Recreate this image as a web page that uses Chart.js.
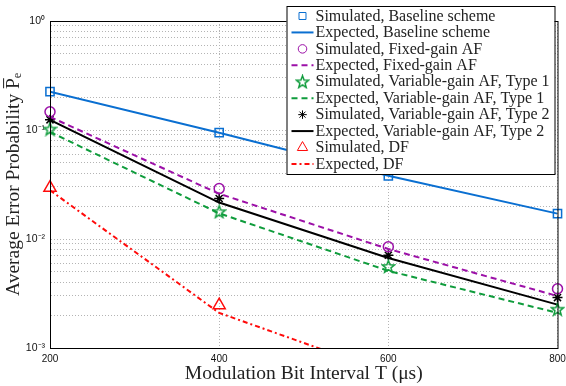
<!DOCTYPE html>
<html>
<head>
<meta charset="utf-8">
<script src="https://cdn.jsdelivr.net/npm/chart.js@4.4.1/dist/chart.umd.min.js"></script>
<style>
  html, body { margin: 0; padding: 0; background: #fff; }
  canvas { display: block; }
</style>
</head>
<body>
<canvas id="berChart" width="566" height="386"></canvas>
<script>
// bit interval T (us)
const bitIntervals = [200, 400, 600, 800];

// average error probability
const baselineSim = [0.225, 0.0945, 0.038, 0.0171];
const baselineExp = [0.225, 0.0945, 0.038, 0.0171];
const fixedSim = [0.147, 0.029, 0.0085, 0.0035];
const fixedExp = [0.132, 0.026, 0.0081, 0.0030];
const type1Sim = [0.102, 0.0178, 0.0056, 0.00227];
const type1Exp = [0.096, 0.0172, 0.0051, 0.0021];
const type2Sim = [0.124, 0.0235, 0.0071, 0.0029];
const type2Exp = [0.124, 0.0216, 0.0067, 0.0025];
const dfSim = [0.0296, 0.00247, null, null];
const dfExp = [0.028, 0.0021, 0.00059, 0.00018];

const xTicks = [200, 400, 600, 800];
const yDecades = [-3, -2, -1, 0];

const BLUE = '#0a6fd1';
const PURPLE = '#9c10a8';
const GREEN = '#0f9c3c';
const RED = '#ff0a0a';
const BLACK = '#000000';

const SERIF = '"Liberation Serif", "DejaVu Serif", serif';
const SANS = '"Liberation Sans", Arial, sans-serif';

// matlab-like pentagram marker
function makePentagram(color) {
    const c = document.createElement('canvas');
    c.width = 15; c.height = 15;
    const g = c.getContext('2d');
    g.strokeStyle = color;
    g.lineWidth = 1.5;
    g.beginPath();
    for (let i = 0; i < 10; i++) {
        const r = i % 2 === 0 ? 6.4 : 2.7;
        const a = -Math.PI / 2 + i * Math.PI / 5;
        const px = 7.5 + r * Math.cos(a), py = 8 + r * Math.sin(a);
        if (i === 0) g.moveTo(px, py); else g.lineTo(px, py);
    }
    g.closePath();
    g.stroke();
    return c;
}
const pentagram = makePentagram(GREEN);

const toPoints = arr => arr.map((v, i) => ({ x: bitIntervals[i], y: v }));

function simSet(label, values, color, style, radius) {
    return {
        label, data: toPoints(values),
        showLine: false,
        borderColor: color, backgroundColor: 'rgba(0,0,0,0)',
        pointStyle: style, pointRadius: radius, pointBorderWidth: 1.5,
        pointBorderColor: color, pointBackgroundColor: 'rgba(0,0,0,0)',
        clip: false
    };
}

function expSet(label, values, color, dash) {
    return {
        label, data: toPoints(values),
        borderColor: color, backgroundColor: color,
        borderWidth: 2, borderDash: dash,
        pointRadius: 0, tension: 0, spanGaps: false
    };
}

const superDigits = { '0': '⁰', '1': '¹', '2': '²', '3': '³', '-': '⁻' };
const expLabel = e => '10' + String(e).split('').map(ch => superDigits[ch]).join('');

const frame = {
    id: 'frame',
    afterDatasetsDraw(chart) {
        const { ctx, chartArea: a } = chart;
        ctx.save();
        ctx.strokeStyle = '#000';
        ctx.lineWidth = 1;
        ctx.strokeRect(a.left + 0.5, a.top + 0.5, a.right - a.left, a.bottom - a.top);
        ctx.restore();
    }
};

const boxLegend = {
    id: 'boxLegend',
    afterDraw(chart) {
        const { ctx, chartArea } = chart;
        const sets = chart.data.datasets;
        const rowH = 16.44;
        const boxW = 268, boxTop = 6;
        const boxH = 168;
        const boxLeft = chartArea.right - 271;
        ctx.save();
        ctx.fillStyle = '#fff';
        ctx.fillRect(boxLeft, boxTop, boxW, boxH);
        ctx.strokeStyle = '#000';
        ctx.lineWidth = 1;
        ctx.strokeRect(boxLeft + 0.5, boxTop + 0.5, boxW, boxH);

        sets.forEach((ds, i) => {
            const cy = boxTop + 10 + i * rowH;
            ctx.save();
            if (ds.showLine === false) {
                ctx.strokeStyle = ds.borderColor;
                ctx.fillStyle = 'rgba(0,0,0,0)';
                Chart.helpers.drawPoint(ctx, {
                    pointStyle: ds.pointStyle, radius: ds.pointRadius * 0.85,
                    borderWidth: ds.pointBorderWidth, rotation: 0
                }, boxLeft + 16, cy);
            } else {
                ctx.strokeStyle = ds.borderColor;
                ctx.lineWidth = ds.borderWidth;
                ctx.setLineDash(ds.borderDash || []);
                ctx.beginPath();
                ctx.moveTo(boxLeft + 5, cy);
                ctx.lineTo(boxLeft + 27, cy);
                ctx.stroke();
            }
            ctx.restore();
            ctx.fillStyle = '#222';
            ctx.font = '16px ' + SERIF;
            ctx.textBaseline = 'middle';
            ctx.fillText(ds.label, boxLeft + 29, cy + 0.5);
        });
        ctx.restore();
    }
};

new Chart(document.getElementById('berChart'), {
    type: 'line',
    data: {
        datasets: [
            simSet('Simulated, Baseline scheme', baselineSim, BLUE, 'rect', 5.8),
            expSet('Expected, Baseline scheme', baselineExp, BLUE, []),
            simSet('Simulated, Fixed-gain AF', fixedSim, PURPLE, 'circle', 5),
            expSet('Expected, Fixed-gain AF', fixedExp, PURPLE, [6, 4]),
            simSet('Simulated, Variable-gain AF, Type 1', type1Sim, GREEN, pentagram, 7),
            expSet('Expected, Variable-gain AF, Type 1', type1Exp, GREEN, [6, 4]),
            simSet('Simulated, Variable-gain AF, Type 2', type2Sim, BLACK, 'star', 5),
            expSet('Expected, Variable-gain AF, Type 2', type2Exp, BLACK, []),
            simSet('Simulated, DF', dfSim, RED, 'triangle', 7),
            expSet('Expected, DF', dfExp, RED, [5, 3, 2, 3])
        ]
    },
    options: {
        responsive: false,
        animation: false,
        devicePixelRatio: 1,
        layout: { padding: { top: 21, right: 7, left: 0, bottom: 0 } },
        plugins: {
            legend: { display: false },
            tooltip: { enabled: false }
        },
        scales: {
            x: {
                type: 'linear',
                min: 200, max: 800,
                afterFit(scale) {
                    scale.height = 38;
                    scale.paddingLeft = 0;
                    scale.paddingRight = 0;
                },
                afterBuildTicks(scale) { scale.ticks = xTicks.map(v => ({ value: v })); },
                grid: { color: '#b4b4b4', drawTicks: false },
                border: { color: '#000', dash: [1, 2] },
                ticks: { color: '#111', font: { family: SANS, size: 10 }, padding: 5, maxRotation: 0 },
                title: {
                    display: true,
                    text: 'Modulation Bit Interval T (μs)',
                    color: '#222',
                    font: { family: SERIF, size: 19.5 },
                    padding: { top: 0, bottom: 0 }
                }
            },
            y: {
                type: 'logarithmic',
                min: 0.001, max: 1,
                afterFit(scale) {
                    scale.width = 50;
                    scale.paddingTop = 0;
                    scale.paddingBottom = 0;
                },
                afterBuildTicks(scale) {
                    const t = [];
                    for (let e = -3; e < 0; e++) {
                        for (let m = 1; m < 10; m++) t.push({ value: m * Math.pow(10, e) });
                    }
                    t.push({ value: 1 });
                    scale.ticks = t;
                },
                grid: { color: '#b4b4b4', drawTicks: false },
                border: { color: '#000', dash: [1, 2] },
                ticks: {
                    autoSkip: false,
                    color: '#111',
                    font: { family: SANS, size: 10.5 },
                    padding: 5,
                    callback(value) {
                        const e = Math.log10(value);
                        const r = Math.round(e);
                        if (Math.abs(e - r) < 1e-9 && yDecades.includes(r)) return expLabel(r);
                        return '';
                    }
                },
                title: {
                    display: true,
                    text: 'Average Error Probability P̅ₑ',
                    color: '#222',
                    font: { family: SERIF, size: 19.5 },
                    padding: { top: 2, bottom: 0 }
                }
            }
        }
    },
    plugins: [frame, boxLegend]
});
</script>
</body>
</html>
